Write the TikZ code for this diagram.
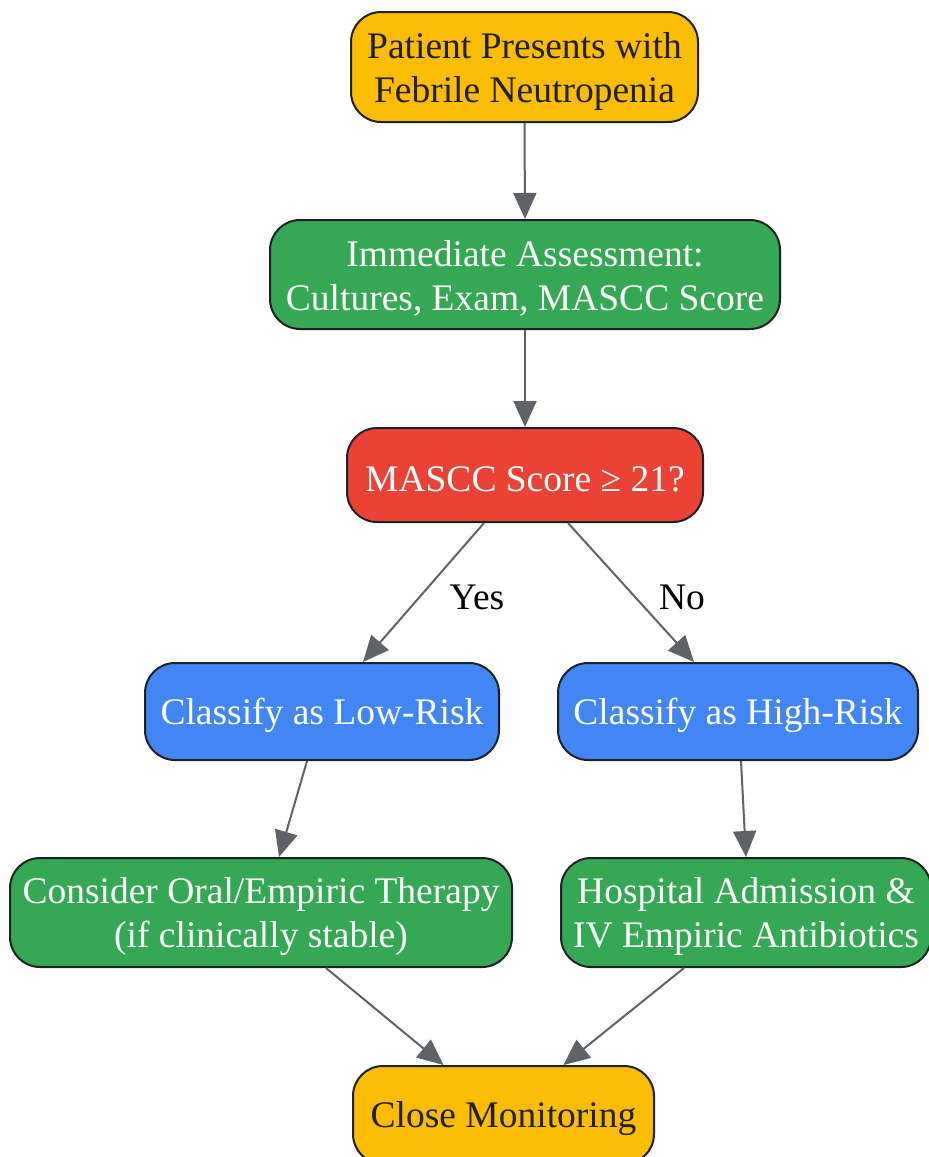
\documentclass[tikz,border=0pt]{standalone}
\usepackage{fontspec}
\setmainfont{Liberation Serif}
\usetikzlibrary{arrows.meta,calc}
\definecolor{cyellow}{HTML}{FBBC04}
\definecolor{cgreen}{HTML}{34A853}
\definecolor{cred}{HTML}{EA4335}
\definecolor{cblue}{HTML}{4285F4}
\definecolor{cborder}{HTML}{202124}
\definecolor{cedge}{HTML}{5F6368}
\newcommand{\lowerstrut}{\rule{0pt}{34pt}}
\tikzset{
  box/.style={draw=cborder, line width=2pt, rounded corners=30pt, align=center,
    inner sep=0pt, font=\fontsize{37.5}{44}\selectfont},
  yellowbox/.style={box, fill=cyellow, text=cborder},
  greenbox/.style={box, fill=cgreen, text=white},
  redbox/.style={box, fill=cred, text=white},
  bluebox/.style={box, fill=cblue, text=white},
  edge/.style={draw=cedge, line width=2pt, -{Triangle[length=26pt,width=23pt]}},
  elabel/.style={font=\fontsize{37.5}{44}\selectfont, text=black, inner sep=0pt}
}
\begin{document}
\begin{tikzpicture}[x=1pt,y=-1pt]
\useasboundingbox (0,0) rectangle (929,1157);
\node[yellowbox, minimum width=347pt, minimum height=110pt] (patient) at (524.5,67) {\lowerstrut Patient Presents with\\Febrile Neutropenia};
\node[greenbox, minimum width=510pt, minimum height=109pt] (immediate) at (525,274.5) {\lowerstrut Immediate Assessment:\\Cultures, Exam, MASCC Score};
\node[redbox, minimum width=356pt, minimum height=94pt] (mascc) at (525,475) {\lowerstrut MASCC Score ≥ 21?};
\node[bluebox, minimum width=354pt, minimum height=97pt] (low) at (322,711.5) {\lowerstrut Classify as Low-Risk};
\node[bluebox, minimum width=360pt, minimum height=97pt] (high) at (738,711.5) {\lowerstrut Classify as High-Risk};
\node[greenbox, minimum width=502pt, minimum height=109pt] (consider) at (261,912.5) {\lowerstrut Consider Oral/Empiric Therapy\\(if clinically stable)};
\node[greenbox, minimum width=370pt, minimum height=109pt] (hospital) at (746,912.5) {\lowerstrut Hospital Admission \&\\IV Empiric Antibiotics};
\node[yellowbox, minimum width=301pt, minimum height=98pt] (close) at (503.5,1115) {\lowerstrut Close Monitoring};

\draw[edge] (patient.south) -- (immediate.north);
\draw[edge] (immediate.south) -- (mascc.north);
\draw[edge] ($(mascc.south)+(-41,0)$) -- ($(low.north)+(41,0)$);
\draw[edge] ($(mascc.south)+(43,0)$) -- ($(high.north)+(-44,0)$);
\draw[edge] ($(low.south)+(-15,0)$) -- ($(consider.north)+(18,0)$);
\draw[edge] ($(high.south)+(3,0)$) -- (hospital.north);
\draw[edge] ($(consider.south)+(65,0)$) -- ($(close.north)+(-60,0)$);
\draw[edge] ($(hospital.south)+(-62,0)$) -- ($(close.north)+(60,0)$);

\node[elabel] (yes) at (477,597) {Yes};
\node[elabel] (no) at (682,597) {No};
\end{tikzpicture}
\end{document}
